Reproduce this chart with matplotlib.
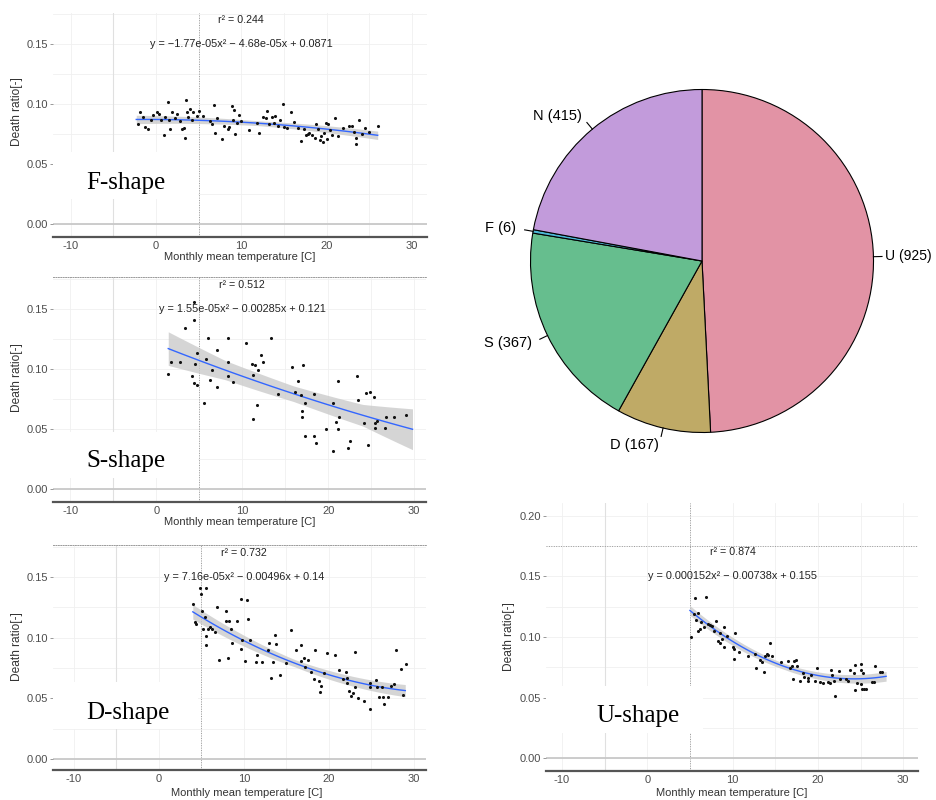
import numpy as np
import matplotlib
matplotlib.use("Agg")
import matplotlib.pyplot as plt
from matplotlib.patches import Rectangle

# ---------------- data ----------------
pie_labels = ["U", "D", "S", "F", "N"]
pie_counts = [925, 167, 367, 6, 415]
pie_colors = ["#E293A5", "#BFAA66", "#66BE8E", "#4DB8D6", "#C29BDB"]

f_x = [-2.1, -1.9, -1.5, -1.3, -0.9, -0.6, -0.3, 0.1, 0.4, 0.6, 0.9, 1.1, 1.4, 1.5, 1.6, 1.9, 2.2, 2.5,
       2.8, 3.1, 3.3, 3.4, 3.5, 3.6, 3.8, 4.0, 4.2, 4.4, 4.8, 5.0, 5.5, 6.3, 6.6, 6.8, 6.9, 7.2, 7.7, 8.0,
       8.4, 8.6, 8.9, 9.0, 9.2, 9.3, 9.5, 9.8, 10.0, 10.9, 11.9, 12.1, 12.6, 12.9, 13.0, 13.3, 13.6, 13.8,
       14.0, 14.3, 14.6, 14.9, 15.0, 15.4, 15.8, 16.2, 16.7, 17.0, 17.4, 17.6, 17.8, 18.0, 18.3, 18.6, 18.8,
       19.0, 19.2, 19.4, 19.6, 19.7, 19.9, 20.0, 20.2, 20.4, 20.6, 21.0, 21.3, 21.9, 22.6, 23.0, 23.2, 23.4,
       23.5, 23.8, 24.2, 24.5, 25.0, 26.0]
f_y = [0.083, 0.093, 0.089, 0.081, 0.079, 0.087, 0.091, 0.093, 0.092, 0.087, 0.074, 0.089, 0.102, 0.087,
       0.079, 0.093, 0.088, 0.092, 0.086, 0.079, 0.080, 0.072, 0.103, 0.093, 0.089, 0.096, 0.087, 0.093,
       0.090, 0.094, 0.090, 0.086, 0.083, 0.099, 0.076, 0.088, 0.071, 0.082, 0.079, 0.081, 0.098, 0.087,
       0.095, 0.075, 0.084, 0.091, 0.086, 0.078, 0.084, 0.076, 0.089, 0.088, 0.094, 0.083, 0.089, 0.084,
       0.090, 0.082, 0.087, 0.100, 0.081, 0.080, 0.093, 0.085, 0.080, 0.069, 0.079, 0.074, 0.075, 0.076,
       0.074, 0.072, 0.083, 0.079, 0.070, 0.073, 0.068, 0.076, 0.084, 0.071, 0.083, 0.078, 0.074, 0.088,
       0.073, 0.080, 0.082, 0.082, 0.077, 0.067, 0.072, 0.087, 0.075, 0.080, 0.077, 0.082]

s_x = [1.4, 1.7, 2.8, 3.4, 4.2, 4.4, 4.4, 4.5, 4.4, 4.8, 4.8, 5.5, 5.8, 6.0, 6.2, 6.5, 7.1, 7.1, 8.3, 8.4,
       8.4, 8.9, 10.4, 11.1, 11.3, 11.3, 11.5, 11.7, 11.8, 12.2, 12.4, 13.4, 14.2, 15.8, 16.1, 16.5, 16.8,
       16.9, 17.0, 17.1, 17.3, 17.3, 18.4, 18.4, 18.6, 19.7, 20.5, 20.6, 20.9, 21.1, 21.1, 21.3, 22.5, 22.3,
       23.4, 23.5, 24.2, 24.4, 24.6, 24.9, 25.3, 25.4, 25.4, 25.7, 26.6, 26.7, 27.6, 29.0]
s_y = [0.096, 0.106, 0.106, 0.134, 0.094, 0.156, 0.141, 0.104, 0.088, 0.087, 0.113, 0.072, 0.108, 0.126,
       0.091, 0.099, 0.116, 0.085, 0.106, 0.126, 0.094, 0.089, 0.122, 0.104, 0.058, 0.095, 0.103, 0.070,
       0.099, 0.112, 0.106, 0.126, 0.079, 0.102, 0.081, 0.090, 0.078, 0.065, 0.060, 0.103, 0.072, 0.044,
       0.079, 0.044, 0.038, 0.050, 0.072, 0.032, 0.056, 0.090, 0.050, 0.060, 0.040, 0.034, 0.094, 0.074,
       0.055, 0.080, 0.037, 0.081, 0.077, 0.051, 0.055, 0.057, 0.051, 0.060, 0.060, 0.062]

d_x = [4.05, 4.2, 4.4, 4.9, 5.0, 5.5, 5.1, 5.4, 5.2, 5.5, 5.5, 5.8, 6.0, 6.3, 6.6, 6.9, 7.1, 7.9, 7.9, 8.1,
       8.3, 8.5, 8.6, 9.2, 9.7, 9.7, 9.8, 10.4, 10.5, 10.2, 10.7, 11.4, 11.6, 12.1, 12.8, 13.0, 13.2, 13.4,
       13.7, 13.8, 14.3, 15.0, 15.6, 16.1, 16.7, 16.7, 17.1, 17.2, 17.5, 17.9, 18.3, 18.4, 18.8, 19.0, 19.1,
       19.4, 19.8, 20.7, 21.2, 21.7, 22.0, 22.2, 22.2, 22.4, 22.6, 22.8, 23.1, 23.4, 24.1, 23.1, 24.8, 24.9,
       25.6, 25.9, 26.4, 26.5, 27.0, 27.3, 27.7, 27.9, 28.5, 28.7, 29.1, 24.9, 25.7, 26.3]
d_y = [0.128, 0.113, 0.111, 0.141, 0.136, 0.141, 0.122, 0.117, 0.107, 0.101, 0.094, 0.107, 0.109, 0.107,
       0.105, 0.125, 0.082, 0.122, 0.114, 0.083, 0.114, 0.107, 0.096, 0.114, 0.132, 0.091, 0.098, 0.131,
       0.115, 0.081, 0.098, 0.080, 0.086, 0.080, 0.090, 0.096, 0.067, 0.080, 0.102, 0.095, 0.069, 0.079,
       0.106, 0.090, 0.094, 0.081, 0.083, 0.076, 0.082, 0.072, 0.066, 0.090, 0.064, 0.055, 0.060, 0.071,
       0.087, 0.086, 0.073, 0.066, 0.072, 0.067, 0.063, 0.056, 0.052, 0.054, 0.059, 0.050, 0.048, 0.088,
       0.041, 0.059, 0.065, 0.051, 0.051, 0.045, 0.051, 0.060, 0.062, 0.090, 0.074, 0.053, 0.078, 0.063,
       0.059, 0.059]

u_x = [5.1, 5.6, 5.5, 5.7, 6.0, 5.9, 6.2, 6.3, 6.9, 6.7, 7.1, 7.4, 7.6, 7.8, 8.0, 8.3, 8.5, 8.5, 8.8, 9.0,
       9.0, 9.3, 10.0, 10.2, 10.3, 10.2, 10.8, 11.8, 12.6, 12.8, 13.2, 13.5, 13.7, 13.8, 14.0, 14.2, 14.4,
       14.6, 15.7, 16.5, 16.7, 17.0, 17.2, 17.4, 17.6, 17.9, 17.1, 18.3, 18.4, 18.8, 18.8, 19.2, 19.7, 19.9,
       20.2, 20.6, 21.2, 21.4, 21.5, 21.7, 21.9, 22.0, 22.5, 22.6, 23.3, 23.5, 23.8, 24.2, 24.4, 24.4, 24.6,
       25.0, 25.1, 25.0, 25.2, 25.4, 25.7, 25.3, 26.3, 26.6, 26.7, 27.3, 27.5]
u_y = [0.100, 0.132, 0.119, 0.114, 0.120, 0.105, 0.107, 0.112, 0.133, 0.108, 0.111, 0.110, 0.109, 0.105,
       0.113, 0.097, 0.095, 0.103, 0.098, 0.108, 0.092, 0.101, 0.092, 0.090, 0.103, 0.082, 0.088, 0.084,
       0.086, 0.074, 0.081, 0.079, 0.071, 0.084, 0.086, 0.085, 0.095, 0.084, 0.079, 0.080, 0.074, 0.076,
       0.080, 0.081, 0.076, 0.064, 0.065, 0.070, 0.067, 0.064, 0.066, 0.069, 0.064, 0.074, 0.063, 0.062,
       0.063, 0.062, 0.073, 0.069, 0.064, 0.051, 0.072, 0.065, 0.065, 0.064, 0.073, 0.070, 0.077, 0.056,
       0.062, 0.073, 0.078, 0.061, 0.057, 0.057, 0.057, 0.070, 0.063, 0.063, 0.076, 0.071, 0.071]

f_coef = [-1.77e-05, -4.68e-05, 0.0871]
s_coef = [1.55e-05, -0.00285, 0.121]
d_coef = [7.16e-05, -0.00496, 0.14]
u_coef = [0.000152, -0.00738, 0.155]

f_band_x, f_band_hw = [-2.3, 12, 26], [0.0035, 0.002, 0.0035]
s_band_x, s_band_hw = [1.4, 8, 16, 24, 29.8], [0.014, 0.008, 0.0065, 0.009, 0.017]
d_band_x, d_band_hw = [4.0, 16, 29], [0.006, 0.003, 0.005]
u_band_x, u_band_hw = [5.0, 16, 28], [0.004, 0.0025, 0.004]

f_r2, s_r2, d_r2, u_r2 = "0.244", "0.512", "0.732", "0.874"
f_eq = "y = \u22121.77e-05x\u00b2 \u2212 4.68e-05x + 0.0871"
s_eq = "y = 1.55e-05x\u00b2 \u2212 0.00285x + 0.121"
d_eq = "y = 7.16e-05x\u00b2 \u2212 0.00496x + 0.14"
u_eq = "y = 0.000152x\u00b2 \u2212 0.00738x + 0.155"

yt_small = [0.00, 0.05, 0.10, 0.15]
yt_big = [0.00, 0.05, 0.10, 0.15, 0.20]
xt = [-10, 0, 10, 20, 30]

# ---------------- figure ----------------
W, H = 936, 800
fig = plt.figure(figsize=(W / 100, H / 100), dpi=100)
fig.patch.set_facecolor("white")
SANS = "Liberation Sans"
SERIF = "Liberation Serif"
TXT = "#4D4D4D"


def ax_px(l, t, r, b):
    return fig.add_axes([l / W, 1 - b / H, (r - l) / W, (b - t) / H])


def ftext(x, y, s, **kw):
    fig.text(x / W, 1 - y / H, s, **kw)


def panel(box, xlim, ylim, yticks, x, y, coef, band_x, band_hw, r2, eq,
          top_dotted=False, hline175=False):
    ax = ax_px(*box)
    ax.set_xlim(*xlim)
    ax.set_ylim(*ylim)
    ax.set_facecolor("white")
    for gx in np.arange(-10, 31, 5):
        ax.axvline(gx, color="#F0F0F0", lw=0.6, zorder=0)
    for gy in np.arange(0, ylim[1], 0.025):
        ax.axhline(gy, color="#F0F0F0", lw=0.6, zorder=0)
    ax.axvline(-5, color="#E0E0E0", lw=0.8, zorder=0.5)
    ax.axvline(5, color="#9A9A9A", lw=0.7, ls=(0, (1, 1.5)), zorder=0.5)
    ax.axhline(0, color="#C8C8C8", lw=1.3, zorder=0.6)
    if hline175:
        ax.axhline(0.175, color="#9A9A9A", lw=0.7, ls=(0, (1, 1.5)), zorder=0.5)
    xs = np.linspace(band_x[0], band_x[-1], 120)
    ys = np.polyval(coef, xs)
    hw = np.interp(xs, band_x, band_hw)
    ax.fill_between(xs, ys - hw, ys + hw, color="#C8C8C8", alpha=0.75, lw=0, zorder=1)
    ax.plot(xs, ys, color="#3366FF", lw=1.0, zorder=3)
    ax.scatter(x, y, s=5, color="#111111", zorder=4, lw=0)
    for sp in ["left", "right", "top"]:
        ax.spines[sp].set_visible(False)
    if top_dotted:
        ax.spines["top"].set_visible(True)
        ax.spines["top"].set_color("#9A9A9A")
        ax.spines["top"].set_linewidth(0.7)
        ax.spines["top"].set_linestyle((0, (1, 1.5)))
    ax.spines["bottom"].set_color("#555555")
    ax.spines["bottom"].set_linewidth(1.6)
    ax.set_xticks(xt)
    ax.set_xticklabels([str(v) for v in xt])
    ax.set_yticks(yticks)
    ax.set_yticklabels(["%.2f" % v for v in yticks])
    ax.tick_params(axis="x", length=0, pad=3, labelsize=8, labelcolor=TXT)
    ax.tick_params(axis="y", length=2.5, width=0.6, color="#888888", pad=1,
                   labelsize=8, labelcolor=TXT)
    for lab in ax.get_xticklabels() + ax.get_yticklabels():
        lab.set_family(SANS)
    ax.text(10, 0.17, "r\u00b2 = " + r2, ha="center", va="center", fontsize=7.7,
            family=SANS, color="#222222", zorder=5)
    ax.text(10, 0.15, eq, ha="center", va="center", fontsize=7.8,
            family=SANS, color="#222222", zorder=5)
    return ax


def shape_label(box, tx, ty, s):
    l, t, r, b = box
    rect = Rectangle((l / W, 1 - b / H), (r - l) / W, (b - t) / H,
                     transform=fig.transFigure, facecolor="white",
                     edgecolor="none", zorder=5)
    fig.add_artist(rect)
    fig.text(tx / W, 1 - ty / H, s, ha="left", va="baseline", fontsize=18,
             family=SERIF, color="black", zorder=6)


panel((53, 13, 427, 237), (-12.06, 31.78), (-0.0108, 0.1758), yt_small,
      f_x, f_y, f_coef, f_band_x, f_band_hw, f_r2, f_eq)
panel((53, 277, 426, 502), (-12.0, 31.37), (-0.0108, 0.1767), yt_small,
      s_x, s_y, s_coef, s_band_x, s_band_hw, s_r2, s_eq, top_dotted=True)
panel((53, 545, 426, 770), (-12.45, 31.44), (-0.0091, 0.1764), yt_small,
      d_x, d_y, d_coef, d_band_x, d_band_hw, d_r2, d_eq, top_dotted=True)
panel((546, 503, 918, 771), (-11.88, 31.74), (-0.0107, 0.2107), yt_big,
      u_x, u_y, u_coef, u_band_x, u_band_hw, u_r2, u_eq, hline175=True)

for (x, y) in [(17, 112), (17, 378), (17, 647), (509, 637)]:
    ftext(x, y, "Death ratio[-]", rotation=90, ha="center", va="center",
          fontsize=8.6, family=SANS, color="#333333")
for (x, y) in [(240, 257), (240, 522), (247, 793), (732, 793)]:
    ftext(x, y, "Monthly mean temperature [C]", ha="center", va="center",
          fontsize=8, family=SANS, color="#333333")

shape_label((53, 152, 198, 199), 86, 189, "F-shape")
shape_label((53, 432, 198, 478), 86, 467, "S-shape")
shape_label((53, 682, 198, 729), 86, 719, "D-shape")
shape_label((546, 686, 703, 733), 596, 722, "U-shape")

# ---------------- pie ----------------
axp = ax_px(530.5, 89.5, 873.5, 432.5)
axp.pie(pie_counts, colors=pie_colors, startangle=90, counterclock=False,
        radius=1, wedgeprops=dict(edgecolor="black", linewidth=0.8))
axp.set_xlim(-1, 1)
axp.set_ylim(-1, 1)
axp.set_aspect("equal")
axp.axis("off")
total = float(sum(pie_counts))
start = 90.0
for lab, c in zip(pie_labels, pie_counts):
    sweep = 360.0 * c / total
    mid = np.deg2rad(start - sweep / 2)
    start -= sweep
    cx, cy = np.cos(mid), np.sin(mid)
    axp.plot([cx, 1.05 * cx], [cy, 1.05 * cy], color="black", lw=0.8, clip_on=False)
    # keep the rightmost label fully inside the figure
    rlab = 1.065 if cx > 0.9 else 1.1
    axp.text(rlab * cx, rlab * cy, "%s (%d)" % (lab, c), ha="left" if cx > 0 else "right",
             va="center", fontsize=10.5 if cx <= 0.9 else 10, family=SANS,
             color="black", clip_on=False)

fig.savefig("out.png", dpi=100, facecolor="white")
